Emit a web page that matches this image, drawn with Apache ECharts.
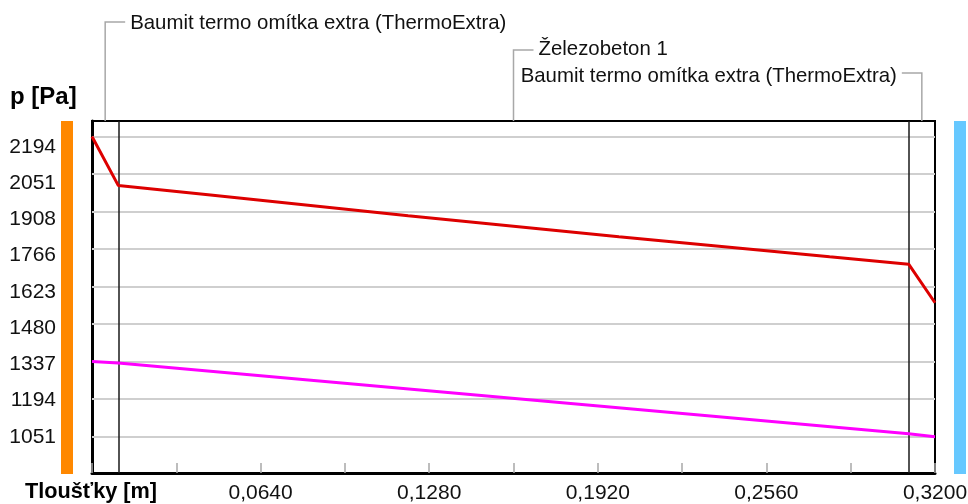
<!DOCTYPE html>
<html>
<head>
<meta charset="utf-8">
<script src="https://cdn.jsdelivr.net/npm/echarts@6/dist/echarts.min.js"></script>
<style>
  html, body { margin: 0; padding: 0; background: #fff; }
  #chart { width: 968px; height: 504px; }
</style>
</head>
<body>
<div id="chart"></div>
<script>
// Skladba konstrukce: názvy vrstev a jejich hranice [m]
const layerNames = [
  'Baumit termo omítka extra (ThermoExtra)',
  'Železobeton 1',
  'Baumit termo omítka extra (ThermoExtra)'
];
const layerBounds = [0, 0.01, 0.31, 0.32];

// Nasycený tlak vodní páry p_sat [Pa]
const satX = [0, 0.01, 0.045, 0.12, 0.20, 0.28, 0.31, 0.32];
const satP = [2194, 2007, 1971, 1892, 1812, 1736, 1708, 1561];

// Částečný tlak vodní páry p [Pa]
const parX = [0, 0.01, 0.31, 0.32];
const parP = [1337, 1332, 1062, 1051];

// Popisky os
const yTickLabels = ['2194', '2051', '1908', '1766', '1623', '1480', '1337', '1194', '1051'];
const xTickLabels = ['0,0640', '0,1280', '0,1920', '0,2560', '0,3200'];

const FONT = '"Liberation Sans", Arial, sans-serif';
const Y_MIN = 912.8, Y_MAX = 2253;

const layerMids = layerBounds.slice(0, -1).map((b, i) => (b + layerBounds[i + 1]) / 2);
// rozmístění popisků vrstev nad grafem
const leaderRowY = [22, 50, 73];
const leaderTextY = [23, 49, 76];
const leaderDir = [1, 1, -1];

const chart = echarts.init(document.getElementById('chart'), null, { renderer: 'canvas' });

const option = {
  animation: false,
  backgroundColor: '#fff',
  grid: {
    left: 92, right: 33, top: 121, bottom: 31,
    containLabel: false, outerBoundsMode: 'none',
    show: true, borderColor: '#000', borderWidth: 2, backgroundColor: 'transparent'
  },
  xAxis: {
    type: 'value', min: 0, max: 0.32, interval: 0.032,
    axisLine: { show: true, onZero: false, lineStyle: { color: '#000', width: 3 } },
    axisTick: { show: true, inside: true, length: 10, lineStyle: { color: '#a8a8a8', width: 1.5 } },
    splitLine: { show: false },
    axisLabel: {
      margin: 10, color: '#111', fontFamily: FONT, fontSize: 21,
      showMinLabel: true, showMaxLabel: true, hideOverlap: false,
      formatter: v => {
        const k = Math.round(v / 0.064);
        if (k >= 1 && Math.abs(v - k * 0.064) < 1e-6) return xTickLabels[k - 1];
        return '';
      }
    }
  },
  yAxis: [
    {
      type: 'value', min: Y_MIN, max: Y_MAX,
      axisLine: { show: true, lineStyle: { color: '#000', width: 3 } },
      axisTick: { show: false }, axisLabel: { show: false }, splitLine: { show: false }
    },
    {
      type: 'value', position: 'left', min: -1, max: 8.709, interval: 1,
      axisLine: { show: false }, axisTick: { show: false }, splitLine: { show: false },
      axisLabel: {
        margin: 36, color: '#111', fontFamily: FONT, fontSize: 21,
        showMaxLabel: false,
        formatter: v => (Number.isInteger(v) && v >= 0 && v <= 8) ? yTickLabels[8 - v] : ''
      }
    }
  ],
  graphic: [
    { type: 'rect', left: 61, top: 121, shape: { width: 12, height: 353 }, style: { fill: '#ff8800' }, z: 1 },
    { type: 'rect', left: 954, top: 121, shape: { width: 12, height: 353 }, style: { fill: '#66c8ff' }, z: 1 },
    { type: 'text', left: 10, top: 85, style: { text: 'p [Pa]', font: 'bold 24px ' + FONT, fill: '#000' } },
    { type: 'text', left: 25, top: 481, style: { text: 'Tloušťky [m]', font: 'bold 21.7px ' + FONT, fill: '#000' } }
  ],
  series: [
    {
      // vodorovná mřížka na hodnotách popisků
      type: 'line', data: [], z: 1, silent: true,
      markLine: {
        silent: true, symbol: ['none', 'none'], label: { show: false }, z: 1,
        lineStyle: { color: '#cfcfcf', width: 2, type: 'solid' },
        data: yTickLabels.map(t => ({ yAxis: Number(t) }))
      }
    },
    {
      // rozhraní vrstev
      type: 'line', data: [], z: 4, silent: true,
      markLine: {
        silent: true, symbol: ['none', 'none'], label: { show: false },
        lineStyle: { color: '#1a1a1a', width: 1.5, type: 'solid' },
        data: layerBounds.slice(1, -1).map(b => ({ xAxis: b }))
      }
    },
    {
      name: 'p_sat', type: 'line', showSymbol: false, z: 10,
      lineStyle: { color: '#dd0000', width: 3 },
      data: satX.map((x, i) => [x, satP[i]])
    },
    {
      name: 'p', type: 'line', showSymbol: false, z: 10,
      lineStyle: { color: '#ff00ff', width: 3 },
      data: parX.map((x, i) => [x, parP[i]])
    },
    {
      // popisky vrstev s odkazovými čarami
      type: 'custom', coordinateSystem: 'cartesian2d', silent: true, clip: false, z: 5,
      data: layerMids.map((m, i) => [m, Y_MAX, i]),
      renderItem: (params, api) => {
        const i = api.value(2);
        const p = api.coord([api.value(0), api.value(1)]);
        const x = p[0], top = p[1];
        const ry = leaderRowY[i], d = leaderDir[i];
        const x2 = x + d * 20;
        return {
          type: 'group',
          children: [
            {
              type: 'polyline',
              shape: { points: [[x, top], [x, ry], [x2, ry]] },
              style: { stroke: '#a8a8a8', lineWidth: 1.5, fill: null }
            },
            {
              type: 'text',
              style: {
                text: layerNames[i], x: x2 + d * 5, y: leaderTextY[i],
                align: d > 0 ? 'left' : 'right', verticalAlign: 'middle',
                font: '20.4px ' + FONT, fill: '#111'
              }
            }
          ]
        };
      }
    }
  ]
};

chart.setOption(option);
</script>
</body>
</html>
